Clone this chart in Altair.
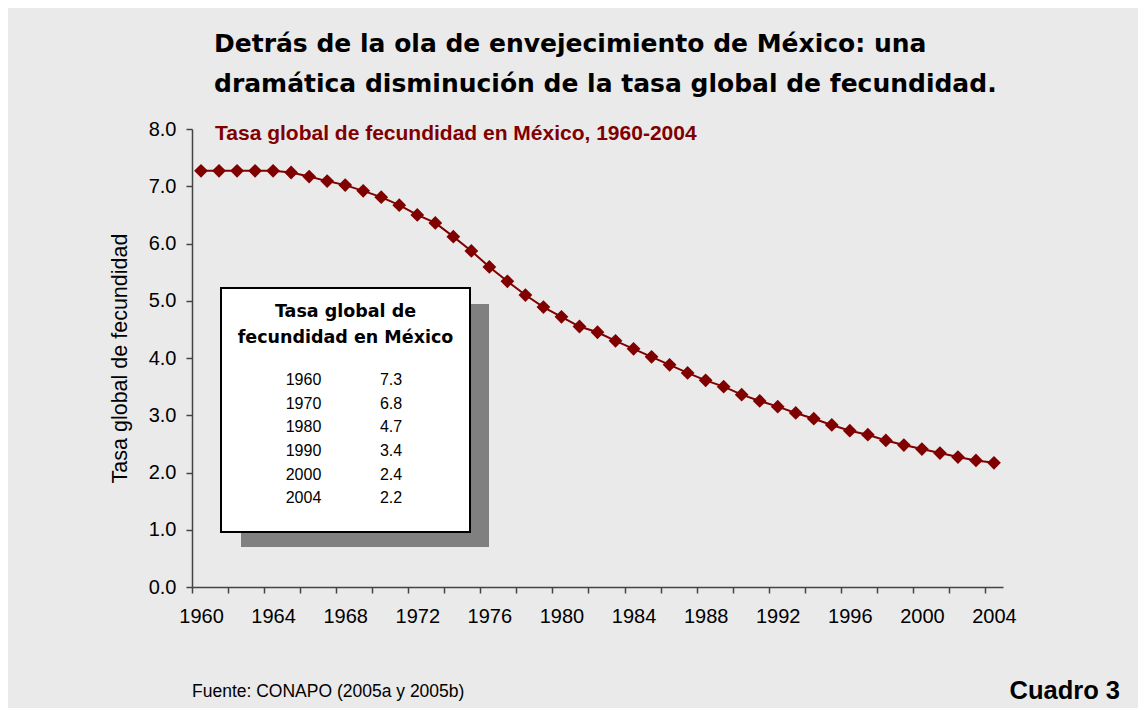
import altair as alt
import pandas as pd

# ---------------- data ----------------
YEARS = list(range(1960, 2005))
TFR = [7.27, 7.27, 7.27, 7.27, 7.27, 7.24, 7.17, 7.09, 7.02, 6.92,
       6.81, 6.67, 6.50, 6.36, 6.12, 5.87, 5.59, 5.34, 5.10, 4.89,
       4.72, 4.55, 4.45, 4.30, 4.16, 4.02, 3.88, 3.74, 3.61, 3.50,
       3.36, 3.25, 3.15, 3.04, 2.94, 2.83, 2.73, 2.66, 2.56, 2.48,
       2.41, 2.34, 2.27, 2.21, 2.17]

TABLE_YEARS = ["1960", "1970", "1980", "1990", "2000", "2004"]
TABLE_VALUES = ["7.3", "6.8", "4.7", "3.4", "2.4", "2.2"]
TABLE_HEADER = ["Tasa global de", "fecundidad en México"]

X_TICKS = list(range(1960, 2005, 2))   # tick every 2 years (drawn between categories)
Y_TICKS = [0, 1, 2, 3, 4, 5, 6, 7, 8]

TITLE_LINES = ["Detrás de la ola de envejecimiento de México: una",
               "dramática disminución de la tasa global de fecundidad."]
SUBTITLE = "Tasa global de fecundidad en México, 1960-2004"
Y_TITLE = "Tasa global de fecundidad"
SOURCE = "Fuente: CONAPO (2005a y 2005b)"
CUADRO = "Cuadro 3"

# ---------------- layout ----------------
W, H = 811, 458
HALF = W / 45 / 2
RED = "#800000"
AXIS_COLOR = "#444444"

df = pd.DataFrame({"year": YEARS, "tfr": TFR})
one = pd.DataFrame({"a": [0]})

x_enc = alt.X(
    "year:Q",
    scale=alt.Scale(domain=[1959.5, 2004.5], nice=False, zero=False),
    axis=alt.Axis(
        values=X_TICKS,
        format="d",
        labelExpr="datum.value % 4 === 0 ? datum.label : ''",
        tickOffset=-HALF,
        labelOffset=HALF,
        labelFlush=False,
        labelOverlap=False,
        labelBound=False,
        tickSize=6,
        labelPadding=13,
        labelFontSize=20,
        labelFont="Liberation Sans",
        labelColor="black",
        grid=False,
        title=None,
        domainColor=AXIS_COLOR,
        domainWidth=1.5,
        tickColor=AXIS_COLOR,
        tickWidth=1.5,
    ),
)
y_enc = alt.Y(
    "tfr:Q",
    scale=alt.Scale(domain=[0, 8], nice=False, zero=True),
    axis=alt.Axis(
        values=Y_TICKS,
        format=".1f",
        tickSize=6,
        labelPadding=10,
        labelFontSize=20,
        labelFont="Liberation Sans",
        labelColor="black",
        grid=False,
        title=Y_TITLE,
        titleFont="Liberation Sans",
        titleFontSize=21.5,
        titleFontWeight="normal",
        titleColor="black",
        titleX=-72,
        titleY=H / 2,
        titleAlign="center",
        titleBaseline="middle",
        domainColor=AXIS_COLOR,
        domainWidth=1.5,
        tickColor=AXIS_COLOR,
        tickWidth=1.5,
    ),
)

base = alt.Chart(df).encode(x=x_enc, y=y_enc)
line = base.mark_line(color=RED, strokeWidth=2)
points = base.mark_point(shape="diamond", filled=True, size=190, color=RED, opacity=1)

# inset table box with shadow
shadow = alt.Chart(one).mark_rect(color="#808080").encode(
    x=alt.value(49), x2=alt.value(297), y=alt.value(175), y2=alt.value(418))
box = alt.Chart(one).mark_rect(fill="white", stroke="black", strokeWidth=2).encode(
    x=alt.value(29), x2=alt.value(278), y=alt.value(159), y2=alt.value(403))

header = alt.Chart(pd.DataFrame({"t": ["\n".join(TABLE_HEADER)]})).mark_text(
    align="center", baseline="middle", font="DejaVu Sans", fontSize=17.5,
    fontWeight="bold", color="black", lineBreak="\n", lineHeight=25.5
).encode(text="t:N", x=alt.value(153.5), y=alt.value(183))

yrs = alt.Chart(pd.DataFrame({"t": ["\n".join(TABLE_YEARS)]})).mark_text(
    align="center", baseline="middle", font="Liberation Sans", fontSize=16,
    color="black", lineBreak="\n", lineHeight=23.66
).encode(text="t:N", x=alt.value(111.5), y=alt.value(251))

vals = alt.Chart(pd.DataFrame({"t": ["\n".join(TABLE_VALUES)]})).mark_text(
    align="center", baseline="middle", font="Liberation Sans", fontSize=16,
    color="black", lineBreak="\n", lineHeight=23.66
).encode(text="t:N", x=alt.value(199), y=alt.value(251))

# titles & notes
title_layers = []
for txt, yy in zip(TITLE_LINES, [-77, -37]):
    title_layers.append(
        alt.Chart(pd.DataFrame({"t": [txt]})).mark_text(
            align="left", baseline="alphabetic", font="DejaVu Sans", fontSize=25,
            fontWeight="bold", color="black"
        ).encode(text="t:N", x=alt.value(22), y=alt.value(yy))
    )

subtitle = alt.Chart(pd.DataFrame({"t": [SUBTITLE]})).mark_text(
    align="left", baseline="alphabetic", font="Liberation Sans", fontSize=21,
    fontWeight="bold", color=RED
).encode(text="t:N", x=alt.value(23), y=alt.value(11))

source = alt.Chart(pd.DataFrame({"t": [SOURCE]})).mark_text(
    align="left", baseline="alphabetic", font="Liberation Sans", fontSize=17.5,
    color="black"
).encode(text="t:N", x=alt.value(0), y=alt.value(568))

cuadro = alt.Chart(pd.DataFrame({"t": [CUADRO]})).mark_text(
    align="right", baseline="alphabetic", font="Liberation Sans", fontSize=25.5,
    fontWeight="bold", color="black"
).encode(text="t:N", x=alt.value(928), y=alt.value(570))

chart = alt.layer(
    shadow, box, header, yrs, vals, line, points, subtitle, source, cuadro, *title_layers
).properties(
    width=W,
    height=H,
    autosize=alt.AutoSizeParams(type="none"),
    padding={"left": 184, "top": 121, "right": 135, "bottom": 121},
    background="#eaeaea",
).configure_view(stroke=None)

chart.save("out.html", embed_options={"renderer": "svg", "actions": False})
